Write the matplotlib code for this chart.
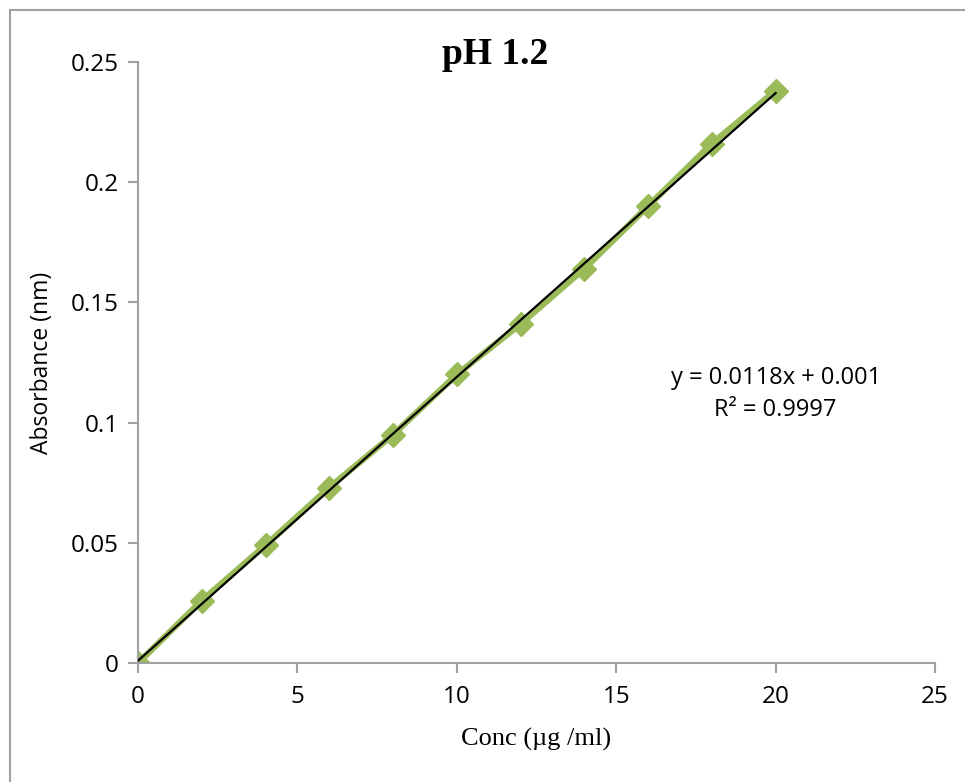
import numpy as np
import matplotlib
matplotlib.use("Agg")
import matplotlib.pyplot as plt
from matplotlib.lines import Line2D

conc = [0, 2, 4, 6, 8, 10, 12, 14, 16, 18, 20]
absorbance = [0.0, 0.026, 0.049, 0.073, 0.095, 0.120, 0.141, 0.164, 0.190, 0.216, 0.238]
slope, intercept = 0.0118, 0.001
x_ticks = [0, 5, 10, 15, 20, 25]
y_ticks = [0, 0.05, 0.1, 0.15, 0.2, 0.25]
y_ticklabels = ["0", "0.05", "0.1", "0.15", "0.2", "0.25"]

green = "#9BBB59"
grey = "#A0A0A0"

fig = plt.figure(figsize=(9.65, 7.82), dpi=100)
ax = fig.add_axes([0.143, 0.152, 0.826, 0.769])

ax.plot(conc, absorbance, color=green, linewidth=4.5, marker="D",
        markersize=12.5, markeredgecolor=green, zorder=2)
fit_x = np.array([conc[0], conc[-1]])
ax.plot(fit_x, slope * fit_x + intercept, color="black", linewidth=1.6, zorder=3)

ax.set_xlim(0, 25)
ax.set_ylim(0, 0.25)
ax.set_xticks(x_ticks)
ax.set_xticklabels([str(t) for t in x_ticks])
ax.set_yticks(y_ticks)
ax.set_yticklabels(y_ticklabels)

for s in ["top", "right"]:
    ax.spines[s].set_visible(False)
for s in ["left", "bottom"]:
    ax.spines[s].set_color(grey)
    ax.spines[s].set_linewidth(1.5)
ax.tick_params(direction="out", length=7, width=1.5, color=grey,
               labelsize=17.5, pad=7)
ax.tick_params(axis="x", pad=9)
for lab in ax.get_xticklabels() + ax.get_yticklabels():
    lab.set_family("Open Sans")

ax.set_xlabel("Conc (µg /ml)", family="Liberation Serif", fontsize=19, labelpad=13)
ax.set_ylabel("Absorbance (nm)", family="Open Sans", fontsize=16.5, labelpad=12)

ax.text(20.0, 0.112, "y = 0.0118x + 0.001\nR² = 0.9997", ha="center", va="center",
        family="Open Sans", fontsize=17, linespacing=1.45)

fig.text(0.513, 0.930, "pH 1.2", ha="center", va="center", family="Liberation Serif",
         fontsize=27, fontweight="bold")

# chart area border (only left/top inside the visible image)
fig.add_artist(Line2D([0.0105, 0.0105], [0, 0.987], color=grey, linewidth=1.5,
                      transform=fig.transFigure))
fig.add_artist(Line2D([0.0105, 1.0], [0.987, 0.987], color=grey, linewidth=1.5,
                      transform=fig.transFigure))

fig.savefig("out.png", dpi=100)
